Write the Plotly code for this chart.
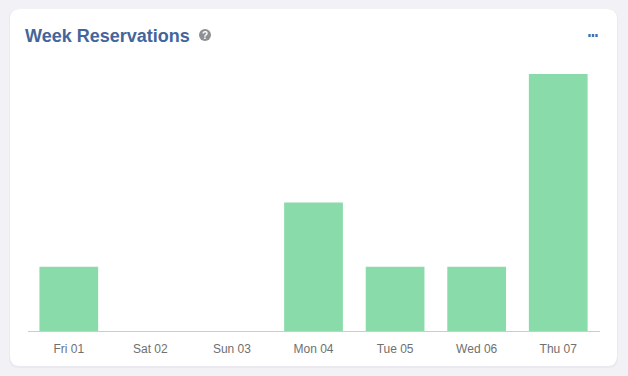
import plotly.graph_objects as go

categories = ["Fri 01", "Sat 02", "Sun 03", "Mon 04", "Tue 05", "Wed 06", "Thu 07"]
reservations = [1, 0, 0, 2, 1, 1, 4]
title_text = "Week Reservations"

W, H = 628, 376
L, R, T, B = 28, 28, 74, 45

fig = go.Figure(go.Bar(x=categories, y=reservations, marker=dict(color="#8adbaa", line=dict(width=0)),
                       hoverinfo="skip"))

to_x = lambda x: (x - L) / (W - L - R)
to_y = lambda y: 1 - (y - T) / (H - T - B)

def card_path(x0, y0, x1, y1, r):
    pts = [
        ("M", x0 + r, y0), ("L", x1 - r, y0), ("Q", x1, y0, x1, y0 + r), ("L", x1, y1 - r),
        ("Q", x1, y1, x1 - r, y1), ("L", x0 + r, y1), ("Q", x0, y1, x0, y1 - r), ("L", x0, y0 + r),
        ("Q", x0, y0, x0 + r, y0),
    ]
    out = []
    for p in pts:
        coords = p[1:]
        s = " ".join(f"{to_x(coords[i])},{to_y(coords[i + 1])}" for i in range(0, len(coords), 2))
        out.append(p[0] + s)
    return " ".join(out) + " Z"

shapes = [
    dict(type="path", xref="paper", yref="paper", layer="below", line=dict(width=0), fillcolor="#e9e9ef",
         path=card_path(9, 9, 618, 368, 10)),
    dict(type="path", xref="paper", yref="paper", layer="below", line=dict(width=0), fillcolor="#ffffff",
         path=card_path(10, 9, 617, 366, 10)),
    dict(type="circle", xref="paper", yref="paper", layer="above", line=dict(width=0), fillcolor="#8f8f8f",
         x0=to_x(199), x1=to_x(211), y0=to_y(41), y1=to_y(29)),
]
for cx in (589.5, 593, 596.5):
    shapes.append(dict(type="rect", xref="paper", yref="paper", line=dict(width=0), fillcolor="#3f74b0",
                       x0=to_x(cx - 1.2), x1=to_x(cx + 1.2), y0=to_y(37), y1=to_y(34)))

annotations = [
    dict(text=f"<b>{title_text}</b>", xref="paper", yref="paper", x=to_x(23), y=to_y(35.5), xanchor="left",
         yanchor="middle", showarrow=False, font=dict(family="Liberation Sans", size=18, color="#44659b")),
    dict(text="<b>?</b>", xref="paper", yref="paper", x=to_x(205), y=to_y(35), xanchor="center",
         yanchor="middle", showarrow=False, font=dict(family="Liberation Sans", size=10, color="#ffffff")),
]

fig.update_layout(
    width=W, height=H, margin=dict(l=L, r=R, t=T, b=B), autosize=False,
    paper_bgcolor="#f1f1f6", plot_bgcolor="rgba(0,0,0,0)",
    showlegend=False, bargap=0.28, shapes=shapes, annotations=annotations,
    xaxis=dict(showgrid=False, showline=True, linecolor="#cccccc", linewidth=1, ticks="",
               range=[-0.5, 6.512],
               tickfont=dict(family="Liberation Sans", size=12, color="#707070"), ticklabelstandoff=7),
    yaxis=dict(range=[0, 4], visible=False, showgrid=False, zeroline=False),
)
fig.write_html("out.html", config=dict(displayModeBar=False),
               post_script="document.body.style.margin='0';document.body.style.background='#f1f1f6';")
